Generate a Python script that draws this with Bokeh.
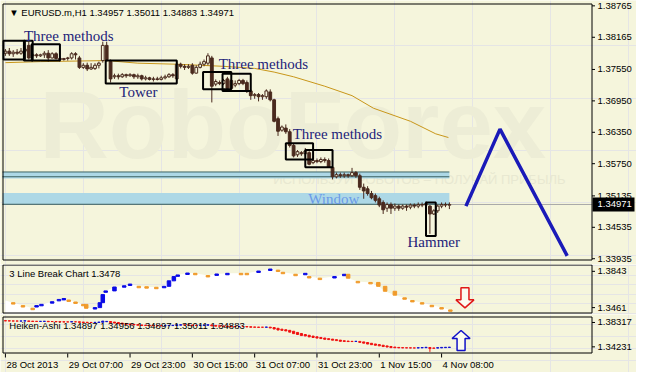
from bokeh.plotting import figure
from bokeh.layouts import column
from bokeh.models import Range1d, Label, ColumnDataSource
from bokeh.core.properties import value
from bokeh.embed import file_html
from bokeh.resources import INLINE

# ---------------- data ----------------
opens = [1.3786,1.3790,1.3785,1.3788,1.3786,1.3790,1.3801,1.3781,1.3783,1.3781,
         1.3783,1.3786,1.3777,1.3785,1.3776,1.3774,1.3776,1.3777,1.3785,1.3777,
         1.3759,1.3763,1.3756,1.3757,1.3763,1.3772,1.3801,1.3770,1.3741,1.3743,
         1.3741,1.3745,1.3743,1.3745,1.3741,1.3743,1.3737,1.3739,1.3736,1.3737,
         1.3736,1.3739,1.3741,1.3745,1.3737,1.3765,1.3761,1.3759,1.3763,1.3748,
         1.3759,1.3765,1.3767,1.3777,1.3727,1.3730,1.3728,1.3737,1.3734,1.3725,
         1.3728,1.3734,1.3730,1.3714,1.3705,1.3707,1.3703,1.3703,1.3712,1.3697,
         1.3661,1.3639,1.3643,1.3636,1.3610,1.3592,1.3596,1.3594,1.3596,1.3577,
         1.3581,1.3579,1.3583,1.3581,1.3568,1.3550,1.3554,1.3552,1.3554,1.3552,
         1.3558,1.3552,1.3530,1.3527,1.3518,1.3514,1.3508,1.3501,1.3490,1.3497,
         1.3490,1.3494,1.3490,1.3494,1.3492,1.3496,1.3494,1.3497,1.3496,1.3494,
         1.3479,1.3485,1.3494,1.3497,1.34957]
highs = [1.3794,1.3796,1.3792,1.3794,1.3796,1.3799,1.3808,1.3786,1.3786,1.3785,
         1.3790,1.3792,1.3788,1.3788,1.3779,1.3777,1.3779,1.3788,1.3788,1.3781,
         1.3767,1.3768,1.3767,1.3767,1.3770,1.3808,1.3808,1.3774,1.3747,1.3747,
         1.3748,1.3747,1.3748,1.3747,1.3747,1.3745,1.3743,1.3741,1.3741,1.3741,
         1.3743,1.3745,1.3748,1.3748,1.3770,1.3768,1.3765,1.3765,1.3767,1.3763,
         1.3770,1.3774,1.3786,1.3781,1.3736,1.3734,1.3737,1.3741,1.3737,1.3734,
         1.3737,1.3737,1.3734,1.3717,1.3710,1.3710,1.3708,1.3717,1.3717,1.3699,
         1.3665,1.3648,1.3650,1.3641,1.3614,1.3601,1.3599,1.3605,1.3599,1.3587,
         1.3585,1.3587,1.3587,1.3585,1.3570,1.3558,1.3558,1.3558,1.3556,1.3567,
         1.3561,1.3556,1.3537,1.3532,1.3523,1.3518,1.3512,1.3505,1.3501,1.3501,
         1.3499,1.3497,1.3497,1.3497,1.3499,1.3499,1.3501,1.3501,1.3503,1.3496,
         1.3488,1.3497,1.3501,1.3501,1.35011]
lows = [1.3781,1.3781,1.3779,1.3783,1.3783,1.3786,1.3774,1.3777,1.3777,1.3779,
        1.3777,1.3770,1.3776,1.3774,1.3770,1.3772,1.3772,1.3774,1.3774,1.3756,
        1.3756,1.3752,1.3754,1.3754,1.3757,1.3768,1.3770,1.3730,1.3737,1.3736,
        1.3739,1.3739,1.3741,1.3737,1.3737,1.3734,1.3734,1.3734,1.3732,1.3734,
        1.3734,1.3736,1.3739,1.3739,1.3734,1.3757,1.3754,1.3756,1.3745,1.3747,
        1.3757,1.3761,1.3763,1.3692,1.3723,1.3725,1.3725,1.3716,1.3717,1.3721,
        1.3725,1.3725,1.3710,1.3697,1.3699,1.3694,1.3697,1.3699,1.3694,1.3654,
        1.3628,1.3636,1.3632,1.3606,1.3587,1.3588,1.3590,1.3590,1.3572,1.3574,
        1.3576,1.3576,1.3577,1.3567,1.3545,1.3547,1.3548,1.3548,1.3548,1.3550,
        1.3548,1.3525,1.3508,1.3514,1.3507,1.3501,1.3492,1.3479,1.3483,1.3479,
        1.3485,1.3485,1.3487,1.3485,1.3488,1.3490,1.3490,1.3492,1.3494,1.3441,
        1.3477,1.3481,1.3490,1.3492,1.34883]
closes = [1.3790,1.3785,1.3788,1.3786,1.3790,1.3794,1.3777,1.3783,1.3781,1.3783,
          1.3786,1.3777,1.3785,1.3776,1.3774,1.3776,1.3777,1.3785,1.3783,1.3759,
          1.3763,1.3756,1.3759,1.3763,1.3767,1.3801,1.3774,1.3737,1.3743,1.3741,
          1.3745,1.3743,1.3745,1.3741,1.3743,1.3737,1.3739,1.3736,1.3737,1.3736,
          1.3739,1.3741,1.3745,1.3743,1.3765,1.3761,1.3759,1.3761,1.3748,1.3759,
          1.3765,1.3770,1.3781,1.3723,1.3732,1.3728,1.3734,1.3719,1.3719,1.3728,
          1.3734,1.3728,1.3714,1.3705,1.3707,1.3703,1.3705,1.3714,1.3697,1.3656,
          1.3637,1.3645,1.3636,1.3610,1.3590,1.3598,1.3594,1.3599,1.3574,1.3581,
          1.3579,1.3583,1.3581,1.3568,1.3550,1.3554,1.3552,1.3554,1.3552,1.3558,
          1.3552,1.3530,1.3523,1.3518,1.3510,1.3505,1.3496,1.3487,1.3497,1.3490,
          1.3494,1.3490,1.3494,1.3492,1.3496,1.3494,1.3497,1.3496,1.3499,1.3479,
          1.3485,1.3494,1.3497,1.3496,1.34971]

# moving average vertices (bar index, price)
ma_x = [0, 9, 26, 34, 44, 56, 64, 69, 74, 82, 89, 94.5, 104, 110.5, 113.75]
ma_y = [1.3768, 1.3770, 1.3772, 1.3767, 1.3765, 1.3761, 1.3757, 1.3750, 1.3741,
        1.3723, 1.3705, 1.3681, 1.3656, 1.3632, 1.3625]

# forecast zigzag
zz_x = [118.25, 127, 144.25]
zz_y = [1.3494, 1.3641, 1.3399]

# pattern boxes
box_left = [-0.5, 4.75, 6.75, 25.75, 50.75, 55.75, 72, 77, 108]
box_right = [5, 7, 14, 44, 58, 63, 79, 84, 110.5]
box_top = [1.3810, 1.3810, 1.3803, 1.3772, 1.3750, 1.3747, 1.3614, 1.3601, 1.3501]
box_bottom = [1.3774, 1.3772, 1.3772, 1.3728, 1.3717, 1.3714, 1.3583, 1.3568, 1.3437]

# horizontal zones
zone_top = [1.35592, 1.35192]
zone_bottom = [1.35465, 1.34975]
zone_lines = [1.35592, 1.35501, 1.34975]
zone_end = 114
last_price = 1.34971

# annotations
ann_text = ["Three methods", "Tower", "Three methods", "Three methods", "Window", "Hammer"]
ann_x = [4.75, 29.25, 54.75, 73.75, 77.75, 103.25]
ann_y = [1.38192, 1.37120, 1.37647, 1.36320, 1.35083, 1.34247]
ann_color = ["#23237A", "#23237A", "#23237A", "#23237A", "#6A9AE8", "#23237A"]

price_ticks = [1.38765, 1.38165, 1.37550, 1.36950, 1.36350, 1.35750, 1.35135, 1.34535, 1.33935]

# 3 line break
lb_x = [0,2,4.5,7,8,9.25,12,13.75,15,16.25,18,20,20.75,23,24.25,25,25.75,28,30.5,32,
        34.25,36.25,38.75,40.75,42,43.25,44.25,46.75,48.75,52,54.25,57,60.5,62,65,68,
        70,71.25,74.5,77,78,80.75,84.5,87,88,90.5,93.75,95.75,97.5,100,102.5,104.5,107,
        109.5,112,114.25]
lb_y = [1.3536,1.3513,1.3482,1.3454,1.3482,1.3495,1.3523,1.3547,1.3557,1.3541,1.3520,
        1.3495,1.3454,1.3461,1.3513,1.3598,1.3637,1.3678,1.3691,1.3709,1.3685,1.3681,
        1.3675,1.3685,1.3743,1.3788,1.3805,1.3825,1.3822,1.3799,1.3815,1.3822,1.3822,
        1.3822,1.3846,1.3867,1.3856,1.3833,1.3812,1.3822,1.3788,1.3771,1.3788,1.3812,
        1.3771,1.3737,1.3726,1.3685,1.3633,1.3592,1.3564,1.3536,1.3513,1.3485,1.3461,
        1.3437]
lb_ticks = [1.3843, 1.3461]
lb_arrow = (118, 1.3564)      # sell signal arrow (bar index, value)

# Heiken-Ashi closes
ha_open0 = 1.3862
ha_close = [1.3858,1.3856,1.3855,1.3855,1.3856,1.3860,1.3850,1.3848,1.3849,1.3850,
            1.3852,1.3845,1.3847,1.3843,1.3840,1.3840,1.3841,1.3845,1.3843,1.3834,
            1.3832,1.3830,1.3831,1.3834,1.3838,1.3855,1.3850,1.3830,1.3822,1.3812,
            1.3805,1.3800,1.3795,1.3790,1.3786,1.3782,1.3780,1.3778,1.3776,1.3776,
            1.3777,1.3779,1.3782,1.3784,1.3792,1.3794,1.3790,1.3788,1.3780,1.3781,
            1.3785,1.3788,1.3794,1.3775,1.3770,1.3768,1.3770,1.3762,1.3760,1.3762,
            1.3765,1.3763,1.3757,1.3752,1.3752,1.3750,1.3752,1.3755,1.3740,1.3722,
            1.3705,1.3700,1.3690,1.3670,1.3645,1.3630,1.3612,1.3605,1.3590,1.3580,
            1.3570,1.3562,1.3550,1.3545,1.3535,1.3528,1.3516,1.3514,1.3512,1.3512,
            1.3516,1.3498,1.3485,1.3470,1.3460,1.3450,1.3440,1.3428,1.3420,1.3410,
            1.3408,1.3406,1.3405,1.3405,1.3404,1.3404,1.3408,1.3412,1.3416,1.3395,
            1.3400,1.3410,1.3414,1.3416,1.3418]
ha_wick_x = [109]
ha_wick_low = [1.3339]
ha_ticks = [1.38317, 1.34231]
ha_arrow = (117, 1.3530)      # buy signal arrow (bar index, value)

time_ticks = [0, 16, 32, 48, 64, 80, 96, 112]
time_labels = ["28 Oct 2013", "29 Oct 07:00", "29 Oct 23:00", "30 Oct 15:00",
               "31 Oct 07:00", "31 Oct 23:00", "1 Nov 15:00", "4 Nov 08:00"]

title_text = "\u25bc EURUSD.m,H1  1.34957 1.35011 1.34883 1.34971"
lb_title = "3 Line Break Chart 1.3478"
ha_title = "Heiken-Ashi 1.34897 1.34956 1.34897 1.35011 1.34883"

# ---------------- layout / styling ----------------
BG = "#F5F5DC"
DARK = "#4A2A1E"
FONT = "Liberation Sans"
FS = "9.5px"
W = 636
FRAME_L, FRAME_W, AXIS_W = 2, 590, 44
X0, X1 = -0.75, 150.75                 # bar index at the frame edges
ppb = FRAME_W / (X1 - X0)              # pixels per bar
xr = Range1d(X0 - FRAME_L / ppb, X1 + AXIS_W / ppb)

MAIN_Y = (1.33901, 1.38810)
LB_Y = (1.3399, 1.3915)
HA_Y = (1.33118, 1.39319)

# hollow arrow outline in pixels (dx right, dy down) for a downward arrow
ARROW_DX = [-4, 4, 4, 9, 0, -9, -4]
ARROW_DY = [-10, -10, 2, 2, 10, 2, 2]


def make_fig(h, yr, pt, fh, pb):
    lo, hi = yr
    dpp = (hi - lo) / fh
    p = figure(width=W, height=h, x_range=xr, y_range=Range1d(lo - pb * dpp, hi + pt * dpp),
               output_backend="svg", toolbar_location=None, x_axis_location=None,
               y_axis_location=None, background_fill_color=BG, border_fill_color=BG,
               outline_line_color=None, min_border=0)
    return p, dpp


def draw_frame(p, yr, dpp, ticks, fmt):
    lo, hi = yr
    xa, xb = X0 + 0.5 / ppb, X1 - 0.5 / ppb
    ya, yb = lo + 0.5 * dpp, hi - 0.5 * dpp
    p.segment(x0=[xa, xa, xa, xb], y0=[ya, yb, ya, ya], x1=[xb, xb, xa, xb], y1=[ya, yb, yb, yb],
              line_color="black", line_width=1)
    n = len(ticks)
    p.segment(x0=[xb] * n, y0=ticks, x1=[xb + 3 / ppb] * n, y1=ticks, line_color="black", line_width=1)
    p.text(x=[X1 + 5 / ppb] * n, y=ticks, text=[fmt.format(t) for t in ticks],
           text_font=value(FONT), text_font_size=value(FS), text_color="black",
           text_baseline=value("middle"), text_align=value("left"))


def draw_arrow(p, anchor, dpp, down, color):
    cx, cy = anchor
    sgn = 1 if down else -1
    xs = [cx + dx / ppb for dx in ARROW_DX]
    ys = [cy - sgn * dy * dpp for dy in ARROW_DY]
    p.patch(xs, ys, fill_color="#FBFBF0", line_color=color, line_width=1.5)


# ---------------- main chart ----------------
p1, d1 = make_fig(264, MAIN_Y, 3, 257, 4)

p1.add_layout(Label(x=8.75, y=1.3650, text="RoboForex", text_font=FONT, text_font_size="96px",
                    text_font_style="bold", text_color="#EDEDD6", text_baseline="middle",
                    level="underlay"))
p1.add_layout(Label(x=68.75, y=1.3545, text="ИСПОЛЬЗУЙ РОБОТОВ – ПОЛУЧАЙ ПРИБЫЛЬ", text_font=FONT,
                    text_font_size="13px", text_color="#E8E8D1", text_baseline="middle",
                    level="underlay"))

p1.segment(x0=[X0], x1=[X1], y0=[last_price], y1=[last_price], line_color="#A8A8A8", line_width=1)
p1.quad(left=[X0, X0], right=[zone_end, zone_end], top=zone_top, bottom=zone_bottom,
        fill_color="#ADD8E6", line_color=None)
p1.segment(x0=[X0] * 3, x1=[zone_end] * 3, y0=zone_lines, y1=zone_lines, line_color="#3E6464", line_width=1)

p1.line(ma_x, ma_y, line_color="#C8961A", line_width=1)

idx = list(range(len(opens)))
src = ColumnDataSource(dict(
    x=idx, h=highs, l=lows,
    top=[max(o, c) for o, c in zip(opens, closes)],
    bottom=[min(o, c) for o, c in zip(opens, closes)],
    fill=[BG if c > o else DARK for o, c in zip(opens, closes)],
))
p1.segment(x0="x", y0="h", x1="x", y1="l", source=src, line_color=DARK, line_width=1)
p1.vbar(x="x", width=0.72, top="top", bottom="bottom", fill_color="fill", line_color=DARK,
        line_width=1, source=src)

p1.quad(left=box_left, right=box_right, top=box_top, bottom=box_bottom, fill_color=None,
        line_color="black", line_width=2)
p1.line(zz_x, zz_y, line_color="#1A1AB8", line_width=3.5)

for t, x, y, c in zip(ann_text, ann_x, ann_y, ann_color):
    p1.add_layout(Label(x=x, y=y, text=t, text_font="Liberation Serif", text_font_size="15px",
                        text_color=c, text_baseline="middle"))

p1.add_layout(Label(x=1, y=1.38629, text=title_text, text_font=FONT, text_font_size=FS,
                    text_color="black", text_baseline="middle"))

draw_frame(p1, MAIN_Y, d1, price_ticks, "{:.5f}")
# current price tag on the scale
p1.quad(left=[X1], right=[X1 + 42 / ppb], top=[last_price + 7 * d1], bottom=[last_price - 7 * d1],
        fill_color="black", line_color=None)
p1.text(x=[X1 + 5 / ppb], y=[last_price], text=["{:.5f}".format(last_price)], text_font=value(FONT),
        text_font_size=value(FS), text_color="white", text_baseline=value("middle"),
        text_align=value("left"))

# ---------------- 3 line break ----------------
p2, d2 = make_fig(50, LB_Y, 0, 49, 1)
p2.varea(x=lb_x, y1=lb_y, y2=[LB_Y[0]] * len(lb_y), fill_color="white")
bx, btop, bbot, bcol = [], [], [], []
for k in range(1, len(lb_y)):
    big = abs(lb_y[k] - lb_y[k - 1]) > 0.004
    bx.append(lb_x[k])
    btop.append(max(lb_y[k], lb_y[k - 1]) if big else lb_y[k])
    bbot.append(min(lb_y[k], lb_y[k - 1]) if big else lb_y[k] - 0.0015)
    bcol.append("#0A0AE6" if lb_y[k] > lb_y[k - 1] else "#F09A2A")
p2.vbar(x=bx, width=0.9, top=btop, bottom=bbot, fill_color=bcol, line_color=bcol, line_width=1)
p2.add_layout(Label(x=1, y=1.3822, text=lb_title, text_font=FONT, text_font_size=FS,
                    text_color="black", text_baseline="middle"))
draw_arrow(p2, lb_arrow, d2, True, "#E01818")
draw_frame(p2, LB_Y, d2, lb_ticks, "{:.4f}")

# ---------------- Heiken-Ashi + time scale ----------------
p3, d3 = make_fig(58, HA_Y, 2, 37, 19)
ha_open = [ha_open0]
for k in range(1, len(ha_close)):
    ha_open.append((ha_open[k - 1] + ha_close[k - 1]) / 2)
ha_col = ["#1010D0" if c >= o else "#F01010" for o, c in zip(ha_open, ha_close)]
p3.segment(x0=ha_wick_x, x1=ha_wick_x, y0=[ha_close[i] for i in ha_wick_x], y1=ha_wick_low,
           line_color="#F01010", line_width=1)
p3.vbar(x=idx, width=0.55, top=[max(o, c) for o, c in zip(ha_open, ha_close)],
        bottom=[min(o, c) for o, c in zip(ha_open, ha_close)], fill_color=ha_col,
        line_color=ha_col, line_width=1)
p3.add_layout(Label(x=1, y=1.3784, text=ha_title, text_font=FONT, text_font_size=FS,
                    text_color="black", text_baseline="middle"))
draw_arrow(p3, ha_arrow, d3, False, "#1010C8")
draw_frame(p3, HA_Y, d3, ha_ticks, "{:.5f}")

# time scale under the last sub-window
nt = len(time_ticks)
p3.segment(x0=time_ticks, x1=time_ticks, y0=[HA_Y[0]] * nt, y1=[HA_Y[0] - 4 * d3] * nt,
           line_color="black", line_width=1)
p3.text(x=[t + 1 / ppb for t in time_ticks], y=[HA_Y[0] - 10.5 * d3] * nt, text=time_labels,
        text_font=value(FONT), text_font_size=value(FS), text_color="black",
        text_baseline=value("middle"), text_align=value("left"))

layout = column(p1, p2, p3)
open("out.html", "w").write(file_html(layout, INLINE))
